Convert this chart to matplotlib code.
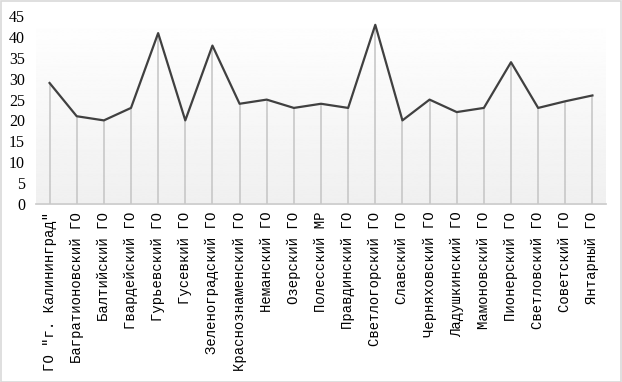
import matplotlib.pyplot as plt
import numpy as np
from matplotlib.patches import Rectangle

# districts of Kaliningrad region
rayony = ['ГО "г. Калининград"', 'Багратионовский ГО', 'Балтийский ГО',
          'Гвардейский ГО', 'Гурьевский ГО', 'Гусевкий ГО', 'Зеленоградский ГО',
          'Краснознаменский ГО', 'Неманский ГО', 'Озерский ГО', 'Полесский МР',
          'Правдинский ГО', 'Светлогорский ГО', 'Славский ГО', 'Черняховский ГО',
          'Ладушкинский ГО', 'Мамоновский ГО', 'Пионерский ГО', 'Светловский ГО',
          'Советский ГО', 'Янтарный ГО']
znachenija = [29, 21, 20, 23, 41, 20, 38, 24, 25, 23, 24,
              23, 43, 20, 25, 22, 23, 34, 23, 24.6, 26]
y_ticks = [0, 5, 10, 15, 20, 25, 30, 35, 40, 45]

plt.rcParams['font.family'] = ['Liberation Serif', 'DejaVu Serif']

fig = plt.figure(figsize=(6.22, 3.82), dpi=100)
fig.patches.append(Rectangle((0.001, 0.001), 0.997, 0.996, transform=fig.transFigure,
                             fill=False, edgecolor='#d9d9d9', linewidth=1.2))

ax = fig.add_axes([36/622, 1 - 203.5/382, 570/622, 187/382])
x = np.arange(len(rayony))

# gradient background
grad = np.linspace(1.0, 0.94, 256).reshape(-1, 1)
ax.imshow(grad, cmap='gray', vmin=0, vmax=1, aspect='auto',
          extent=(-0.5, len(rayony) - 0.5, 0, 45), zorder=0)

ax.vlines(x, 0, znachenija, color='#c8c8c8', linewidth=1.2, zorder=1)
ax.plot(x, znachenija, color='#404040', linewidth=1.6, zorder=2)

ax.set_xlim(-0.5, len(rayony) - 0.5)
ax.set_ylim(0, 45)
ax.set_yticks(y_ticks)
ax.set_yticklabels([str(t) for t in y_ticks], fontsize=11.5)
ax.set_xticks(x)
ax.set_xticklabels(rayony, rotation=90, fontsize=10,
                   family=['Liberation Mono', 'DejaVu Sans Mono'])
ax.tick_params(axis='both', length=0, pad=6)
ax.tick_params(axis='y', pad=8)

for s in ['top', 'right', 'left']:
    ax.spines[s].set_visible(False)
ax.spines['bottom'].set_color('#c8c8c8')
ax.spines['bottom'].set_linewidth(1.2)

fig.savefig('out.png', dpi=100)
